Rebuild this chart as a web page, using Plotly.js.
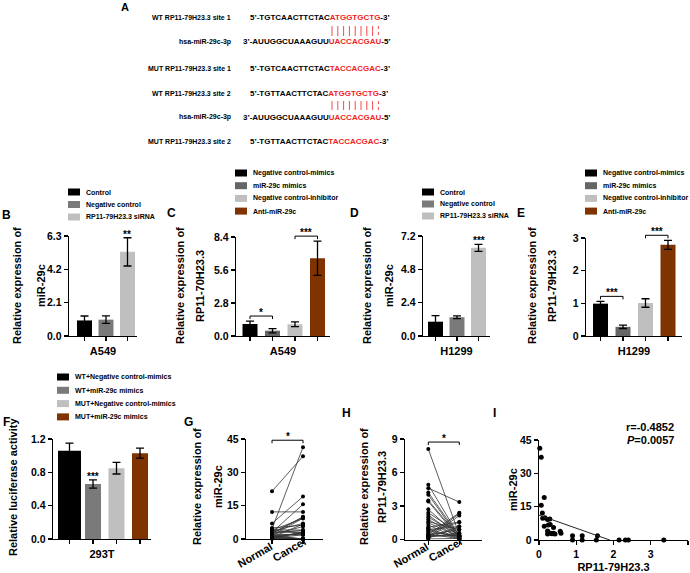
<!DOCTYPE html>
<html><head><meta charset="utf-8">
<script src="https://cdn.plot.ly/plotly-3.0.1.min.js"></script>
<style>html,body{margin:0;padding:0;background:#fff}#chart{width:690px;height:573px}</style>
</head><body><div id="chart"></div>
<script>
// ---------------- DATA ----------------
const seqLabels = ['WT RP11-79H23.3 site 1','hsa-miR-29c-3p','MUT RP11-79H23.3 site 1','WT RP11-79H23.3 site 2','hsa-miR-29c-3p','MUT RP11-79H23.3 site 2'];
const seqHeads = ['5’-TGTCAACTTCTAC','3’-AUUGGCUAAAGUU','5’-TGTCAACTTCTAC','5’-TGTTAACTTCTAC','3’-AUUGGCUAAAGUU','5’-TGTTAACTTCTAC'];
const seqCores = ['ATGGTGCTG','UACCACGAU','TACCACGAC','ATGGTGCTG','UACCACGAU','TACCACGAC'];
const seqTails = ['-3’','-5’','-3’','-3’','-5’','-3’'];

const bCategories = ['Control','Negative control','RP11-79H23.3 siRNA'];
const bValues = [0.98, 1.03, 5.3];
const bErrors = [0.28, 0.24, 0.89];
const bStars = ['', '', '**'];

const cCategories = ['Negative control-mimics','miR-29c mimics','Negative control-inhibitor','Anti-miR-29c'];
const cValues = [1.02, 0.45, 0.99, 6.6];
const cErrors = [0.25, 0.18, 0.2, 1.45];
const cBrackets = [[0,1,'*'],[2,3,'***']];

const dCategories = ['Control','Negative control','RP11-79H23.3 siRNA'];
const dValues = [1.03, 1.35, 6.35];
const dErrors = [0.43, 0.1, 0.25];
const dStars = ['', '', '***'];

const eCategories = ['Negative control-mimics','miR-29c mimics','Negative control-inhibitor','Anti-miR-29c'];
const eValues = [0.99, 0.28, 1.01, 2.79];
const eErrors = [0.07, 0.05, 0.13, 0.14];
const eBrackets = [[0,1,'***'],[2,3,'***']];

const fCategories = ['WT+Negative control-mimics','WT+miR-29c mimics','MUT+Negative control-mimics','MUT+miR-29c mimics'];
const fValues = [1.06, 0.66, 0.85, 1.03];
const fErrors = [0.09, 0.05, 0.07, 0.06];
const fStars = ['', '***', '', ''];

const pairGroups = ['Normal','Cancer'];
const gNormal = [4.5,21.5,7.0,3.0,12.2,2.5,4.0,1.5,5.0,0.8,3.5,2.0,4.2,1.0,0.5,3.8,1.2,2.8,0.3,1.8,0.2,2.2,0.6,1.4,0.4,0.9,0.1,1.6,0.7,3.2,2.6];
const gCancer = [41.3,37.2,19.1,15.6,12.2,10.0,9.2,9.4,6.2,6.7,7.0,5.6,4.0,2.7,3.0,3.0,2.7,3.9,3.0,1.9,0.0,1.9,0.0,0.0,1.9,0.0,0.0,0.0,0.0,2.8,9.8];
const hNormal = [1.0,0.5,2.2,1.3,3.4,4.0,2.7,4.9,1.8,3.5,4.2,2.0,0.8,1.5,0.3,0.6,8.1,2.4,0.2,0.4,1.6,0.15,0.9,0.7,1.1,0.1,0.25,0.45,4.6,0.35,0.05];
const hCancer = [0.02,0.06,0.14,0.06,0.09,0.16,0.23,0.29,0.14,0.25,0.30,0.39,0.23,0.23,0.32,0.39,0.43,0.57,0.59,0.90,0.90,1.16,1.16,1.54,1.57,2.15,2.32,2.40,3.35,0.35,0.10];

const iRP11 = [0.02,0.06,0.14,0.06,0.09,0.16,0.23,0.29,0.14,0.25,0.30,0.39,0.23,0.23,0.32,0.39,0.43,0.57,0.59,0.90,0.90,1.16,1.16,1.54,1.57,2.15,2.32,2.40,3.35,0.35,0.10];
const iMiR = [41.3,37.2,19.1,15.6,12.2,10.0,9.2,9.4,6.2,6.7,7.0,5.6,4.0,2.7,3.0,3.0,2.7,3.9,3.0,1.9,0.0,1.9,0.0,0.0,1.9,0.0,0.0,0.0,0.0,2.8,9.8];
const iFitX = [0, 1.9];
const iFitY = [11.2, 0];
const iStats = ['r=-0.4852', '<i>P</i>=0.0057'];

const bYTicks = [0, 2.1, 4.2, 6.3];
const cYTicks = [0, 2.8, 5.6, 8.4];
const dYTicks = [0, 2.4, 4.8, 7.2];
const eYTicks = [0, 1, 2, 3];
const fYTicks = [0, 0.4, 0.8, 1.2];
const gYTicks = [0, 15, 30, 45];
const hYTicks = [0, 3, 6, 9];
const iXTicks = [0, 1, 2, 3, 4];
const iYTicks = [0, 15, 30, 45];

// ---------------- STYLE / LAYOUT ----------------
const BLACK = '#000000', DGREY = '#7a7a7a', DGREY2 = '#666666', LGREY = '#bfbfbf', BROWN = '#7f3300', RED = '#f21d1d';
const colors3 = [BLACK, DGREY, LGREY];
const colors4 = [BLACK, DGREY2, LGREY, BROWN];
const colorsF = [BLACK, DGREY, LGREY, BROWN];

const W = 690, H = 573;
const FONT = "'Liberation Sans', Arial, sans-serif";
const traces = [], shapes = [], annotations = [];
const layout = {width: W, height: H, margin: {l:0, r:0, t:0, b:0}, paper_bgcolor: '#fff', plot_bgcolor: 'rgba(0,0,0,0)',
  showlegend: false, barmode: 'overlay', font: {family: FONT, color: '#000'}, shapes, annotations};

const px = x => x / W, py = y => 1 - y / H;
function bold(size) { return {family: FONT, size: size, color: '#000', weight: 'bold'}; }
function txt(text, x, y, o) {
  annotations.push(Object.assign({text, x: px(x), y: py(y), xref: 'paper', yref: 'paper', showarrow: false,
    xanchor: 'center', yanchor: 'middle', font: bold(11)}, o || {}));
}
const axisStyle = () => ({showline: true, linecolor: '#000', linewidth: 1.3, ticks: 'outside', ticklen: 4, tickwidth: 1.3,
  tickcolor: '#000', showgrid: false, zeroline: false, fixedrange: true, tickfont: bold(10.5)});

function addAxes(n, g, xRange, yRange, xExtra, yExtra) {
  const s = n === 1 ? '' : String(n);
  layout['xaxis' + s] = Object.assign(axisStyle(), {domain: [px(g.xl), px(g.xr)], anchor: 'y' + s, range: xRange}, xExtra);
  layout['yaxis' + s] = Object.assign(axisStyle(), {domain: [py(g.yb), py(g.yt)], anchor: 'x' + s, range: yRange}, yExtra);
  return {x: 'x' + s, y: 'y' + s, g, y0: yRange[0], perPx: (yRange[1] - yRange[0]) / (g.yb - g.yt)};
}
// pixel position of a category index / value inside a panel (used for stars and brackets)
const xPix = (ax, i) => ax.g.c0 + i * ax.g.sp;
const yPix = (ax, v) => ax.g.yb - (v - ax.y0) / ax.perPx;

function starAt(ax, i, v, label) {
  txt(label, xPix(ax, i), yPix(ax, v), {yanchor: 'bottom', yshift: -4, font: bold(10)});
}
function bracket(ax, i0, i1, top, label, gapPx) {
  const yb = yPix(ax, top) - gapPx, x0 = xPix(ax, i0), x1 = xPix(ax, i1);
  shapes.push({type: 'path', xref: 'paper', yref: 'paper',
    path: `M ${px(x0)},${py(yb + 3)} L ${px(x0)},${py(yb)} L ${px(x1)},${py(yb)} L ${px(x1)},${py(yb + 3)}`,
    line: {color: '#000', width: 1}});
  txt(label, (x0 + x1) / 2, yb, {yanchor: 'bottom', yshift: -4, font: bold(10)});
}

function legendBlock(cats, cols, sx, row0, step) {
  cats.forEach((c, i) => {
    const y = row0 + i * step;
    shapes.push({type: 'rect', xref: 'paper', yref: 'paper', x0: px(sx), x1: px(sx + 12), y0: py(y + 3.5), y1: py(y - 3.5), fillcolor: cols[i], line: {width: 0}});
    txt(c, sx + 16, y, {xanchor: 'left', font: bold(7)});
  });
}

function barPanel(n, g, cats, vals, errs, cols, yTicks, fmt, xTitle, widthsPx) {
  const ax = addAxes(n, g, [(g.xl - g.c0) / g.sp, (g.xr - g.c0) / g.sp], [0, yTicks[yTicks.length - 1]],
    {tickvals: cats.map((_, i) => i), showticklabels: false, title: {text: xTitle, standoff: 7, font: bold(11)}},
    {tickvals: yTicks, tickformat: fmt});
  vals.forEach((v, i) => traces.push({type: 'bar', x: [i], y: [v], name: cats[i], width: (widthsPx ? widthsPx[i] : 15) / g.sp,
    marker: {color: cols[i], line: {width: 0}}, hoverinfo: 'skip',
    error_y: {type: 'data', array: [errs[i]], visible: true, color: '#000', thickness: 1.3, width: 4},
    xaxis: ax.x, yaxis: ax.y}));
  return ax;
}

function pairedPanel(n, g, normal, cancer, yTicks) {
  const ax = addAxes(n, g, [(g.xl - g.c0) / g.sp, (g.xr - g.c0) / g.sp], [0, yTicks[yTicks.length - 1]],
    {tickvals: [0, 1], showticklabels: false}, {tickvals: yTicks});
  const xs = [], ys = [];
  normal.forEach((v, i) => { xs.push(0, 1, null); ys.push(v, cancer[i], null); });
  traces.push({type: 'scatter', mode: 'lines+markers', x: xs, y: ys, connectgaps: false, cliponaxis: false, hoverinfo: 'skip',
    line: {color: '#333', width: 0.8}, marker: {color: '#000', size: 4}, xaxis: ax.x, yaxis: ax.y});
  bracket(ax, 0, 1, Math.max(...normal, ...cancer), '*', 7);
  // rotated category labels
  txt(pairGroups[0], xPix(ax, 0) - 17, 555, {textangle: -30});
  txt(pairGroups[1], xPix(ax, 1) - 13, 549, {textangle: -30});
  return ax;
}

// ---------------- PANEL A ----------------
txt('A', 125, 7, {font: bold(11)});
const aRows = [17, 42, 69, 93, 117, 141];
seqLabels.forEach((lab, i) => {
  txt(lab, 233, aRows[i], {xanchor: 'right', font: bold(7)});
  const sx = seqHeads[i].startsWith('3') ? 241 : 248;
  txt(seqHeads[i] + '<span style="color:' + RED + '">' + seqCores[i] + '</span>' + seqTails[i], sx, aRows[i], {xanchor: 'left', font: bold(8)});
});
[[26, 36], [101, 110]].forEach(([y0, y1]) => {
  for (let k = 0; k < 9; k++) {
    const x = 332 + k * 5.8;
    shapes.push({type: 'line', xref: 'paper', yref: 'paper', x0: px(x), x1: px(x), y0: py(y0), y1: py(y1),
      line: {color: RED, width: 0.8, dash: k === 8 ? 'dot' : 'solid'}});
  }
});

// ---------------- PANEL B ----------------
txt('B', 6, 215, {font: bold(12)});
legendBlock(bCategories, colors3, 68, 192, 12.5);
let ax = barPanel(1, {xl: 69, xr: 137, c0: 84.5, sp: 21.5, yb: 336, yt: 236}, bCategories, bValues, bErrors, colors3, bYTicks, '.1f', 'A549');
bStars.forEach((s, i) => { if (s) starAt(ax, i, bValues[i] + bErrors[i], s); });
txt('Relative expression of', 17, 286, {textangle: -90});
txt('miR-29c', 41, 286, {textangle: -90});

// ---------------- PANEL C ----------------
txt('C', 171, 213, {font: bold(12)});
legendBlock(cCategories, colors4, 235, 173, 12.7);
ax = barPanel(2, {xl: 236, xr: 330, c0: 250, sp: 22.5, yb: 336, yt: 237}, cCategories, cValues, cErrors, colors4, cYTicks, '.1f', 'A549');
cBrackets.forEach(([a, b, s]) => bracket(ax, a, b, Math.max(cValues[a] + cErrors[a], cValues[b] + cErrors[b]), s, 5));
txt('Relative expression of', 180, 286, {textangle: -90});
txt('RP11-70H23.3', 200, 286, {textangle: -90});

// ---------------- PANEL D ----------------
txt('D', 354, 213, {font: bold(12)});
legendBlock(dCategories, colors3, 422, 192, 12);
ax = barPanel(3, {xl: 423, xr: 490, c0: 435.5, sp: 21.5, yb: 336, yt: 236}, dCategories, dValues, dErrors, colors3, dYTicks, '.1f', 'H1299');
dStars.forEach((s, i) => { if (s) starAt(ax, i, dValues[i] + dErrors[i], s); });
txt('Relative expression of', 367, 286, {textangle: -90});
txt('miR-29c', 389, 286, {textangle: -90});

// ---------------- PANEL E ----------------
txt('E', 521, 213, {font: bold(12)});
legendBlock(eCategories, colors4, 585, 173, 12.7);
ax = barPanel(4, {xl: 586, xr: 682, c0: 600.5, sp: 22.5, yb: 336, yt: 238}, eCategories, eValues, eErrors, colors4, eYTicks, 'd', 'H1299');
eBrackets.forEach(([a, b, s]) => bracket(ax, a, b, Math.max(eValues[a] + eErrors[a], eValues[b] + eErrors[b]), s, 5));
txt('Relative expression of', 532, 286, {textangle: -90});
txt('RP11-79H23.3', 552, 286, {textangle: -90});

// ---------------- PANEL F ----------------
txt('F', 6, 422, {font: bold(12)});
legendBlock(fCategories, colorsF, 57, 377, 13.3);
ax = barPanel(5, {xl: 53, xr: 151, c0: 69.5, sp: 23.5, yb: 539, yt: 439}, fCategories, fValues, fErrors, colorsF, fYTicks, '.1f', '293T', [23, 16, 16, 16]);
fStars.forEach((s, i) => { if (s) starAt(ax, i, fValues[i] + fErrors[i], s); });
txt('Relative luciferase activity', 13, 487, {textangle: -90});

// ---------------- PANEL G ----------------
txt('G', 189, 422, {font: bold(12)});
pairedPanel(6, {xl: 246, xr: 323, c0: 272, sp: 31, yb: 539, yt: 439}, gNormal, gCancer, gYTicks);
txt('Relative expression of', 197, 487, {textangle: -90});
txt('miR-29c', 218, 487, {textangle: -90});

// ---------------- PANEL H ----------------
txt('H', 346, 413, {font: bold(12)});
pairedPanel(7, {xl: 405, xr: 482, c0: 428.3, sp: 31, yb: 539.5, yt: 439}, hNormal, hCancer, hYTicks);
txt('Relative expression of', 364, 487, {textangle: -90});
txt('RP11-79H23.3', 382, 487, {textangle: -90});

// ---------------- PANEL I ----------------
txt('I', 494, 413, {font: bold(12)});
ax = addAxes(8, {xl: 539, xr: 688, yb: 540, yt: 440}, [0, 4], [0, 45],
  {tickvals: iXTicks, title: {text: 'RP11-79H23.3', standoff: 5, font: bold(11)}}, {tickvals: iYTicks});
traces.push({type: 'scatter', mode: 'markers', x: iRP11, y: iMiR, cliponaxis: false, hoverinfo: 'skip',
  marker: {color: '#000', size: 5}, xaxis: ax.x, yaxis: ax.y});
traces.push({type: 'scatter', mode: 'lines', x: iFitX, y: iFitY, cliponaxis: false, hoverinfo: 'skip',
  line: {color: '#222', width: 1}, xaxis: ax.x, yaxis: ax.y});
txt('miR-29c', 513, 490, {textangle: -90});
txt(iStats[0], 676, 427, {xanchor: 'right'});
txt(iStats[1], 676, 440, {xanchor: 'right'});

Plotly.newPlot('chart', traces, layout, {displayModeBar: false, staticPlot: true});
</script></body></html>
